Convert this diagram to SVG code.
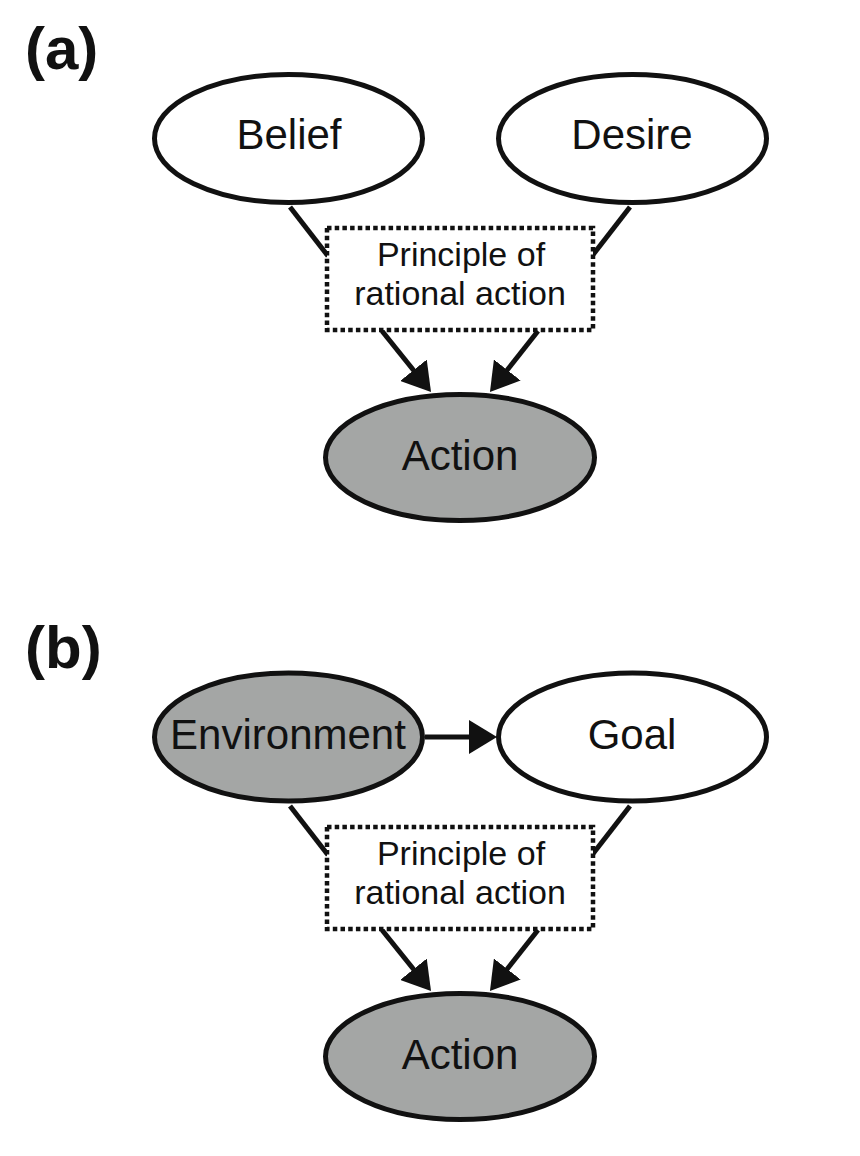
<svg xmlns="http://www.w3.org/2000/svg" width="860" height="1156" viewBox="0 0 860 1156">
  <style>
    .node { stroke: #111; stroke-width: 5; }
    .white { fill: #fff; }
    .gray { fill: #a4a6a5; }
    .lbl { font-family: "Liberation Sans", Arial, sans-serif; font-size: 42px; fill: #111; text-anchor: middle; }
    .box { fill: #fff; stroke: #111; stroke-width: 4.5; stroke-dasharray: 4.5 3.2; }
    .boxtxt { font-family: "Liberation Sans", Arial, sans-serif; font-size: 34px; fill: #111; text-anchor: middle; }
    .panel { font-family: "Liberation Sans", Arial, sans-serif; font-size: 60px; font-weight: bold; fill: #111; }
    .edge { stroke: #111; stroke-width: 5; fill: none; }
    .arrow { marker-end: url(#ah); }
  </style>
  <defs>
    <marker id="ah" markerUnits="userSpaceOnUse" viewBox="0 0 28 34" refX="20" refY="17" markerWidth="28" markerHeight="34" orient="auto">
      <path d="M0,0 L28,17 L0,34 z" fill="#111"/>
    </marker>
  </defs>

  <text class="panel" x="25" y="69">(a)</text>
  <text class="panel" x="25" y="668">(b)</text>

  <g id="connectors">
    <line class="edge" x1="290" y1="207" x2="328" y2="256"/>
    <line class="edge" x1="630" y1="207" x2="592" y2="256"/>
    <line class="edge arrow" x1="382" y1="331" x2="426" y2="385.8"/>
    <line class="edge arrow" x1="538" y1="331" x2="494.9" y2="385.7"/>

    <line class="edge" x1="290" y1="806" x2="328" y2="855"/>
    <line class="edge" x1="630" y1="806" x2="592" y2="855"/>
    <line class="edge arrow" x1="382" y1="930" x2="426" y2="984.8"/>
    <line class="edge arrow" x1="538" y1="930" x2="494.9" y2="984.7"/>
    <line class="edge arrow" x1="425" y1="737" x2="489" y2="737"/>
  </g>

  <g id="belief">
    <ellipse class="node white" cx="288.5" cy="138.5" rx="134" ry="64"/>
    <text class="lbl" x="289" y="149">Belief</text>
  </g>
  <g id="desire">
    <ellipse class="node white" cx="632.5" cy="138.5" rx="134" ry="64"/>
    <text class="lbl" x="632" y="149">Desire</text>
  </g>
  <g id="principle-a">
    <rect class="box" x="327" y="228" width="266" height="102"/>
    <text class="boxtxt" x="461" y="266">Principle of</text>
    <text class="boxtxt" x="460" y="305">rational action</text>
  </g>
  <g id="action-a">
    <ellipse class="node gray" cx="460" cy="457.5" rx="134.5" ry="63"/>
    <text class="lbl" x="460" y="470">Action</text>
  </g>

  <g id="environment">
    <ellipse class="node gray" cx="288.5" cy="737" rx="134" ry="64"/>
    <text class="lbl" x="288" y="749">Environment</text>
  </g>
  <g id="goal">
    <ellipse class="node white" cx="632.5" cy="737" rx="134" ry="64"/>
    <text class="lbl" x="632" y="749">Goal</text>
  </g>
  <g id="principle-b">
    <rect class="box" x="327" y="827" width="266" height="102"/>
    <text class="boxtxt" x="461" y="865">Principle of</text>
    <text class="boxtxt" x="460" y="904">rational action</text>
  </g>
  <g id="action-b">
    <ellipse class="node gray" cx="460" cy="1056.5" rx="134.5" ry="63"/>
    <text class="lbl" x="460" y="1069">Action</text>
  </g>
</svg>
